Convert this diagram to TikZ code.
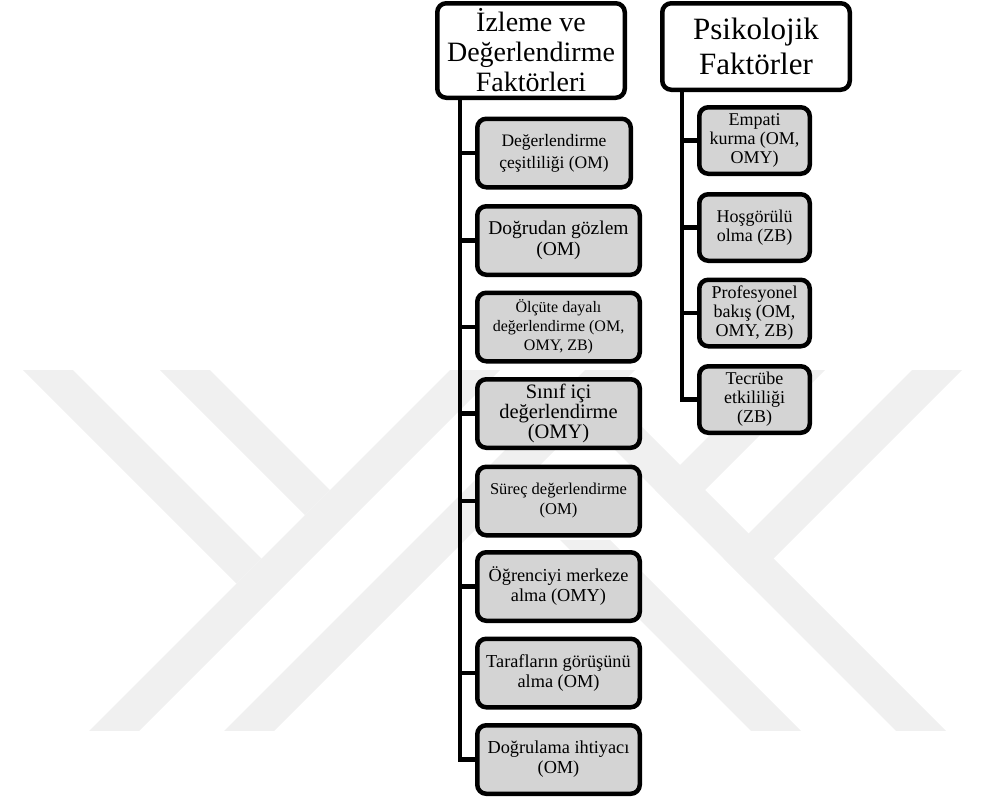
\documentclass[tikz,border=0pt]{standalone}
\usepackage{fontspec}
\setmainfont{Liberation Serif}
\begin{document}
\begin{tikzpicture}[x=1pt,y=-1pt]
\tikzset{
  base/.style={draw=black, line width=4.5pt, rounded corners=9pt, inner sep=0pt, align=center, text=black},
  title/.style={base, fill=white, minimum width=187.5pt},
  child/.style={base, fill=black!17, minimum height=68.5pt, font=\fontsize{18.3}{20}\selectfont},
  lchild/.style={child, minimum width=162.5pt},
  rchild/.style={child, minimum width=110.5pt, minimum height=66.5pt, font=\fontsize{18}{19}\selectfont},
  conn/.style={line width=4.5pt, draw=black},
  wm/.style={fill=black!6, draw=none}
}
\useasboundingbox (0,0) rectangle (981,803);
% watermark
\begin{scope}
\clip (0,370) rectangle (981,730);
% left part
\fill[wm] (-47,300) -- (3,300) -- (261.5,558.5) -- (236.5,583.5) -- cycle;
\fill[wm] (90,300) -- (140,300) -- (330,490) -- (305,515) -- cycle;
\fill[wm] (520,300) -- (570,300) -- (70,800) -- (20,800) -- cycle;
\fill[wm] (655,300) -- (705,300) -- (205,800) -- (155,800) -- cycle;
% right part
\fill[wm] (1032,300) -- (982,300) -- (723.5,558.5) -- (748.5,583.5) -- cycle;
\fill[wm] (895,300) -- (845,300) -- (655,490) -- (680,515) -- cycle;
\fill[wm] (560,395) -- (610,395) -- (965,750) -- (915,750) -- cycle;
\fill[wm] (560,540) -- (610,540) -- (830,760) -- (780,760) -- cycle;
\end{scope}
% titles
\node[title, minimum height=94.5pt, font=\fontsize{28}{30}\selectfont] (lt) at (531,50.5) {İzleme ve\\Değerlendirme\\Faktörleri};
\node[title, minimum height=86.5pt, font=\fontsize{31}{35}\selectfont] (rt) at (756,46.5) {Psikolojik\\Faktörler};
% left children
\node[lchild, minimum width=153.5pt, font=\fontsize{17.5}{22}\selectfont] (l1) at (554,153) {Değerlendirme\\çeşitliliği (OM)};
\node[lchild, font=\fontsize{19.5}{20.5}\selectfont] (l2) at (558.5,240.5) {Doğrudan gözlem\\(OM)};
\node[lchild, font=\fontsize{16}{19}\selectfont] (l3) at (558.5,327) {Ölçüte dayalı\\değerlendirme (OM,\\OMY, ZB)};
\node[lchild, font=\fontsize{20.5}{20}\selectfont] (l4) at (558.5,413.5) {Sınıf içi\\değerlendirme\\(OMY)};
\node[lchild, font=\fontsize{16.5}{20}\selectfont] (l5) at (558.5,501) {Süreç değerlendirme\\(OM)};
\node[lchild] (l6) at (558.5,586.5) {Öğrenciyi merkeze\\alma (OMY)};
\node[lchild] (l7) at (558.5,673) {Tarafların görüşünü\\alma (OM)};
\node[lchild] (l8) at (558.5,759.5) {Doğrulama ihtiyacı\\(OM)};
% right children
\node[rchild] (r1) at (754.5,140.5) {Empati\\kurma (OM,\\OMY)};
\node[rchild] (r2) at (754.5,227.5) {Hoşgörülü\\olma (ZB)};
\node[rchild] (r3) at (754.5,313) {Profesyonel\\bakış (OM,\\OMY, ZB)};
\node[rchild] (r4) at (754.5,399.5) {Tecrübe\\etkililiği\\(ZB)};
% trunks
\coordinate (ltr) at (460,0);
\coordinate (rtr) at (682,0);
\foreach \n in {l1,l2,l3,l4,l5,l6,l7,l8}
  \draw[conn] (lt.south -| ltr) |- (\n.west);
\foreach \n in {r1,r2,r3,r4}
  \draw[conn] (rt.south -| rtr) |- (\n.west);
\end{tikzpicture}
\end{document}
